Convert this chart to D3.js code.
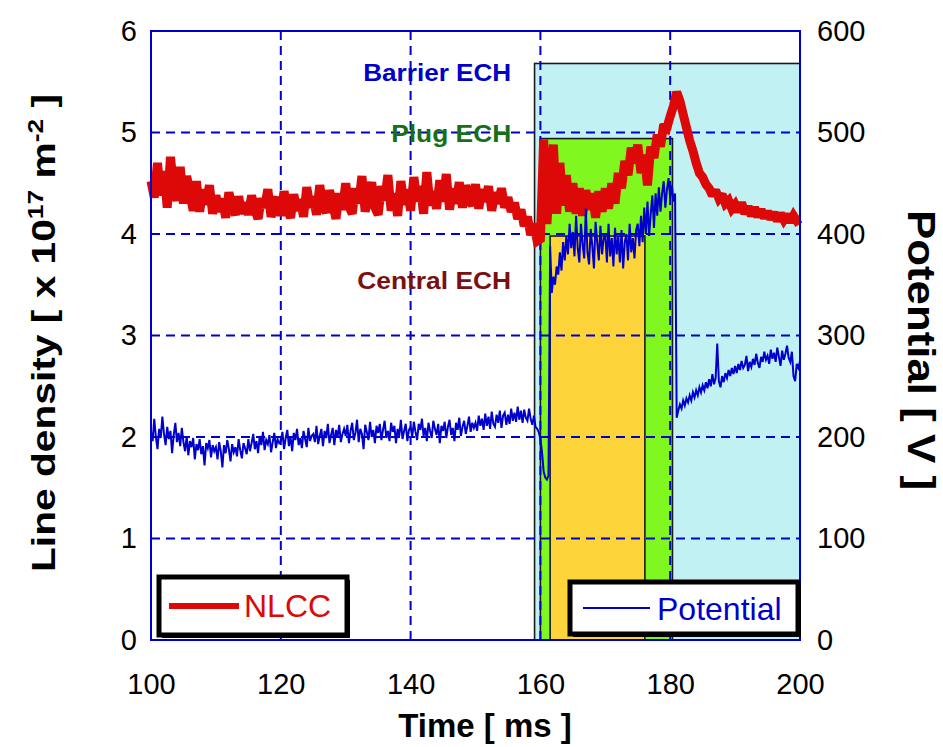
<!DOCTYPE html>
<html>
<head>
<meta charset="utf-8">
<script src="https://cdn.jsdelivr.net/npm/d3@7"></script>
<style>
body { margin: 0; background: #fff; }
text { font-family: "Liberation Sans", Arial, sans-serif; }
</style>
</head>
<body>
<div id="chart-area"></div>
<script>

// SVG size
var width = 943,
	height = 747;

// time axis of both traces (ms)
var t0 = 100;
var nlccStep = 0.5;
var potStep = 0.25;

// NLCC line density [x 10^17 m^-2], every 0.5 ms from 100 to 200
var nlcc = [
	4.52,4.36,4.70,4.38,4.62,4.26,4.76,4.45,4.33,4.66,
	4.30,4.57,4.40,4.23,4.52,4.22,4.44,4.29,4.48,4.20,
	4.38,4.22,4.35,4.16,4.41,4.27,4.19,4.37,4.20,4.31,
	4.19,4.38,4.24,4.15,4.35,4.26,4.44,4.17,4.29,4.36,
	4.18,4.42,4.25,4.16,4.39,4.23,4.34,4.17,4.46,4.26,
	4.37,4.19,4.48,4.28,4.21,4.43,4.29,4.15,4.40,4.24,
	4.50,4.27,4.20,4.45,4.30,4.57,4.22,4.38,4.51,4.26,
	4.19,4.47,4.33,4.58,4.23,4.40,4.18,4.52,4.29,4.44,
	4.23,4.56,4.32,4.47,4.20,4.61,4.28,4.42,4.25,4.53,
	4.32,4.59,4.24,4.45,4.30,4.51,4.26,4.48,4.35,4.28,
	4.49,4.25,4.44,4.32,4.47,4.23,4.41,4.30,4.45,4.26,
	4.36,4.22,4.31,4.15,4.24,4.08,4.17,3.99,4.10,3.93,
	3.95,4.93,4.10,4.55,4.88,4.20,4.70,4.28,4.58,4.22,
	4.50,4.20,4.45,4.18,4.43,4.24,4.40,4.16,4.42,4.22,
	4.45,4.25,4.50,4.30,4.60,4.45,4.72,4.58,4.85,4.70,
	4.88,4.60,4.78,4.48,4.86,4.75,4.98,4.86,5.08,5.05,
	5.16,5.26,5.40,5.31,5.18,5.05,4.92,4.82,4.70,4.60,
	4.56,4.49,4.45,4.38,4.43,4.35,4.39,4.30,4.33,4.25,
	4.29,4.22,4.31,4.20,4.27,4.18,4.26,4.17,4.24,4.16,
	4.22,4.15,4.21,4.13,4.20,4.14,4.19,4.12,4.18,4.13,
	4.15
];

// Potential [V], every 0.25 ms from 100 to 200
var potential = [
	205,196,218,200,188,208,199,220,203,192,210,198,206,184,202,214,195,204,191,209,
	195,186,201,182,196,190,199,178,193,187,198,183,191,172,194,189,197,180,192,186,
	190,178,195,186,170,192,184,197,188,176,193,185,190,181,198,187,179,194,189,183,
	198,186,194,203,188,196,184,201,192,205,187,197,193,202,185,195,204,189,198,194,
	196,205,188,199,207,191,200,186,204,197,208,192,199,189,206,198,190,209,196,201,
	203,195,211,193,201,208,191,206,199,213,194,202,209,192,207,200,212,195,203,208,
	201,212,194,206,214,197,204,217,195,208,203,188,212,205,197,215,200,207,194,211,
	204,213,197,207,216,199,206,196,214,205,211,194,208,201,217,198,206,213,196,207,
	210,200,215,205,197,213,207,218,201,209,196,214,206,199,216,208,202,213,194,211,
	206,215,199,210,217,202,209,196,214,207,219,201,210,216,203,211,220,205,214,209,
	214,206,221,211,218,207,223,211,220,208,225,213,210,222,214,226,209,221,224,212,
	222,213,228,216,224,215,230,217,226,214,227,219,216,228,218,212,221,210,208,205,
	198,185,166,160,158,162,388,342,358,350,368,360,382,364,392,374,398,380,410,386,
	402,378,418,386,372,410,390,376,425,382,370,405,388,366,412,392,374,408,380,396,
	400,372,410,378,396,368,406,380,398,372,404,366,392,400,374,410,382,396,376,404,
	410,388,418,392,426,400,432,398,420,438,406,440,418,446,422,440,452,426,444,455,
	435,448,432,440,219,226,232,228,236,231,238,234,241,236,244,239,246,241,249,244,
	251,246,254,248,257,250,262,252,258,292,255,249,260,254,263,258,266,260,268,262,
	270,263,272,266,275,268,271,280,265,274,269,277,271,282,273,268,279,274,284,276,
	280,272,286,277,283,274,288,279,270,285,276,282,290,278,274,284,260,255,272,268,
	275
];

// ECH heating pulses: start / end [ms], level on the density axis
var echNames = ["Barrier ECH", "Plug ECH", "Central ECH"];
var echStart = [159.1, 160.0, 161.5];
var echEnd = [200, 180.35, 176.1];
var echLevel = [5.68, 4.94, 3.98];

var seriesNames = ["NLCC", "Potential"];

// axis ticks
var timeTicks = [100, 120, 140, 160, 180, 200];
var densityTicks = [0, 1, 2, 3, 4, 5, 6];
var potentialTicks = [0, 100, 200, 300, 400, 500, 600];


var margin = {top: 31, right: 143, bottom: 107, left: 151};
var w = width - margin.left - margin.right,
	h = height - margin.top - margin.bottom;

var gridBlue = "#0000cc";

var svg = d3.select("#chart-area")
	.append("svg")
	.attr("width", width)
	.attr("height", height)
	.style("display", "block");

var g = svg.append("g")
	.attr("transform", "translate(" + margin.left + "," + margin.top + ")");

var x = d3.scaleLinear().domain([100, 200]).range([0, w]);
var yL = d3.scaleLinear().domain([0, 6]).range([h, 0]);
var yR = d3.scaleLinear().domain([0, 600]).range([h, 0]);

// ECH pulses (back to front)
var echColor = ["#c1f1f3", "#80f820", "#fdd53b"];
var echData = echNames.map(function (n, i) {
	return {name: n, start: echStart[i], end: echEnd[i], level: echLevel[i], color: echColor[i]};
});

g.selectAll("rect.ech").data(echData).enter()
	.append("rect")
	.attr("class", "ech")
	.attr("x", function (d) {return x(d.start)})
	.attr("y", function (d) {return yL(d.level)})
	.attr("width", function (d) {return x(d.end) - x(d.start)})
	.attr("height", function (d) {return yL(0) - yL(d.level)})
	.attr("fill", function (d) {return d.color})
	.attr("stroke", "#1a1a1a")
	.attr("stroke-width", 1.6);

// grid
g.selectAll("line.hgrid").data(densityTicks.slice(1, -1)).enter()
	.append("line")
	.attr("x1", 0).attr("x2", w)
	.attr("y1", function (d) {return yL(d)})
	.attr("y2", function (d) {return yL(d)})
	.attr("stroke", gridBlue)
	.attr("stroke-width", 2)
	.attr("stroke-dasharray", "9,6");

g.selectAll("line.vgrid").data(timeTicks.slice(1, -1)).enter()
	.append("line")
	.attr("y1", 0).attr("y2", h)
	.attr("x1", function (d) {return x(d)})
	.attr("x2", function (d) {return x(d)})
	.attr("stroke", gridBlue)
	.attr("stroke-width", 2)
	.attr("stroke-dasharray", "9,6");

// traces
var nlccLine = d3.line()
	.x(function (d, i) {return x(t0 + i * nlccStep)})
	.y(function (d) {return yL(d)});

var potLine = d3.line()
	.x(function (d, i) {return x(t0 + i * potStep)})
	.y(function (d) {return yR(d)});

g.append("path")
	.datum(nlcc)
	.attr("d", nlccLine)
	.attr("fill", "none")
	.attr("stroke", "#dd0808")
	.attr("stroke-width", 9)
	.attr("stroke-linejoin", "miter")
	.attr("stroke-miterlimit", 2);

g.append("path")
	.datum(potential)
	.attr("d", potLine)
	.attr("fill", "none")
	.attr("stroke", "#0000cc")
	.attr("stroke-width", 2);

// plot frame
g.append("rect")
	.attr("width", w).attr("height", h)
	.attr("fill", "none")
	.attr("stroke", gridBlue)
	.attr("stroke-width", 2);

// ECH labels
var labelColor = ["#0000c8", "#177017", "#7a1010"];
var labelY = [5.51, 4.91, 3.46];
var labelLen = [148, 120, 154];
g.selectAll("text.ech").data(echData).enter()
	.append("text")
	.attr("x", x(155.5))
	.attr("y", function (d, i) {return yL(labelY[i])})
	.attr("text-anchor", "end")
	.attr("font-size", 24)
	.attr("font-weight", "bold")
	.attr("textLength", function (d, i) {return labelLen[i]})
	.attr("lengthAdjust", "spacingAndGlyphs")
	.attr("fill", function (d, i) {return labelColor[i]})
	.text(function (d) {return d.name});

// axes
var fs = 29;
var xAxis = d3.axisBottom(x).tickValues(timeTicks).tickSize(0).tickPadding(33)
	.tickFormat(d3.format("d"));
var yAxisL = d3.axisLeft(yL).tickValues(densityTicks).tickSize(0).tickPadding(14)
	.tickFormat(d3.format("d"));
var yAxisR = d3.axisRight(yR).tickValues(potentialTicks).tickSize(0).tickPadding(17)
	.tickFormat(d3.format("d"));

[
	g.append("g").attr("transform", "translate(0," + h + ")").call(xAxis),
	g.append("g").call(yAxisL),
	g.append("g").attr("transform", "translate(" + w + ",0)").call(yAxisR)
].forEach(function (ax) {
	ax.select(".domain").remove();
	ax.selectAll("text")
		.attr("font-size", fs)
		.attr("fill", "#000")
		.style("font-family", "'Liberation Sans', Arial, sans-serif");
});

// legends
function legendBox(x0, y0, bw, bh) {
	svg.append("rect")
		.attr("x", x0 + 3).attr("y", y0 + 3)
		.attr("width", bw).attr("height", bh)
		.attr("fill", "#000");
	svg.append("rect")
		.attr("x", x0).attr("y", y0)
		.attr("width", bw).attr("height", bh)
		.attr("fill", "#fff")
		.attr("stroke", "#000")
		.attr("stroke-width", 5);
}

legendBox(159, 577, 188, 58);
svg.append("line")
	.attr("x1", 169).attr("x2", 239).attr("y1", 606).attr("y2", 606)
	.attr("stroke", "#dd0808").attr("stroke-width", 6);
svg.append("text")
	.attr("x", 244).attr("y", 617)
	.attr("font-size", 32)
	.attr("fill", "#dd0808")
	.text(seriesNames[0]);

legendBox(570, 582, 228, 52);
svg.append("line")
	.attr("x1", 583).attr("x2", 650).attr("y1", 608).attr("y2", 608)
	.attr("stroke", "#0000cc").attr("stroke-width", 2);
svg.append("text")
	.attr("x", 657).attr("y", 620)
	.attr("font-size", 32)
	.attr("fill", "#0000cc")
	.text(seriesNames[1]);

// axis titles
svg.append("text")
	.attr("x", 485).attr("y", 737)
	.attr("text-anchor", "middle")
	.attr("font-size", 33)
	.attr("font-weight", "bold")
	.text("Time [ ms ]");

var lt = svg.append("text")
	.attr("transform", "translate(55,333) rotate(-90)")
	.attr("text-anchor", "middle")
	.attr("font-size", 34)
	.attr("font-weight", "bold")
	.attr("textLength", 478)
	.attr("lengthAdjust", "spacingAndGlyphs");
lt.append("tspan").text("Line density [ x 10");
lt.append("tspan").attr("dy", -12).attr("font-size", 22).text("17");
lt.append("tspan").attr("dy", 12).text(" m");
lt.append("tspan").attr("dy", -12).attr("font-size", 22).text("-2");
lt.append("tspan").attr("dy", 12).text(" ]");

svg.append("text")
	.attr("transform", "translate(908,350) rotate(90)")
	.attr("text-anchor", "middle")
	.attr("font-size", 38)
	.attr("font-weight", "bold")
	.attr("textLength", 280)
	.attr("lengthAdjust", "spacingAndGlyphs")
	.text("Potential [ V ]");

</script>
</body>
</html>
